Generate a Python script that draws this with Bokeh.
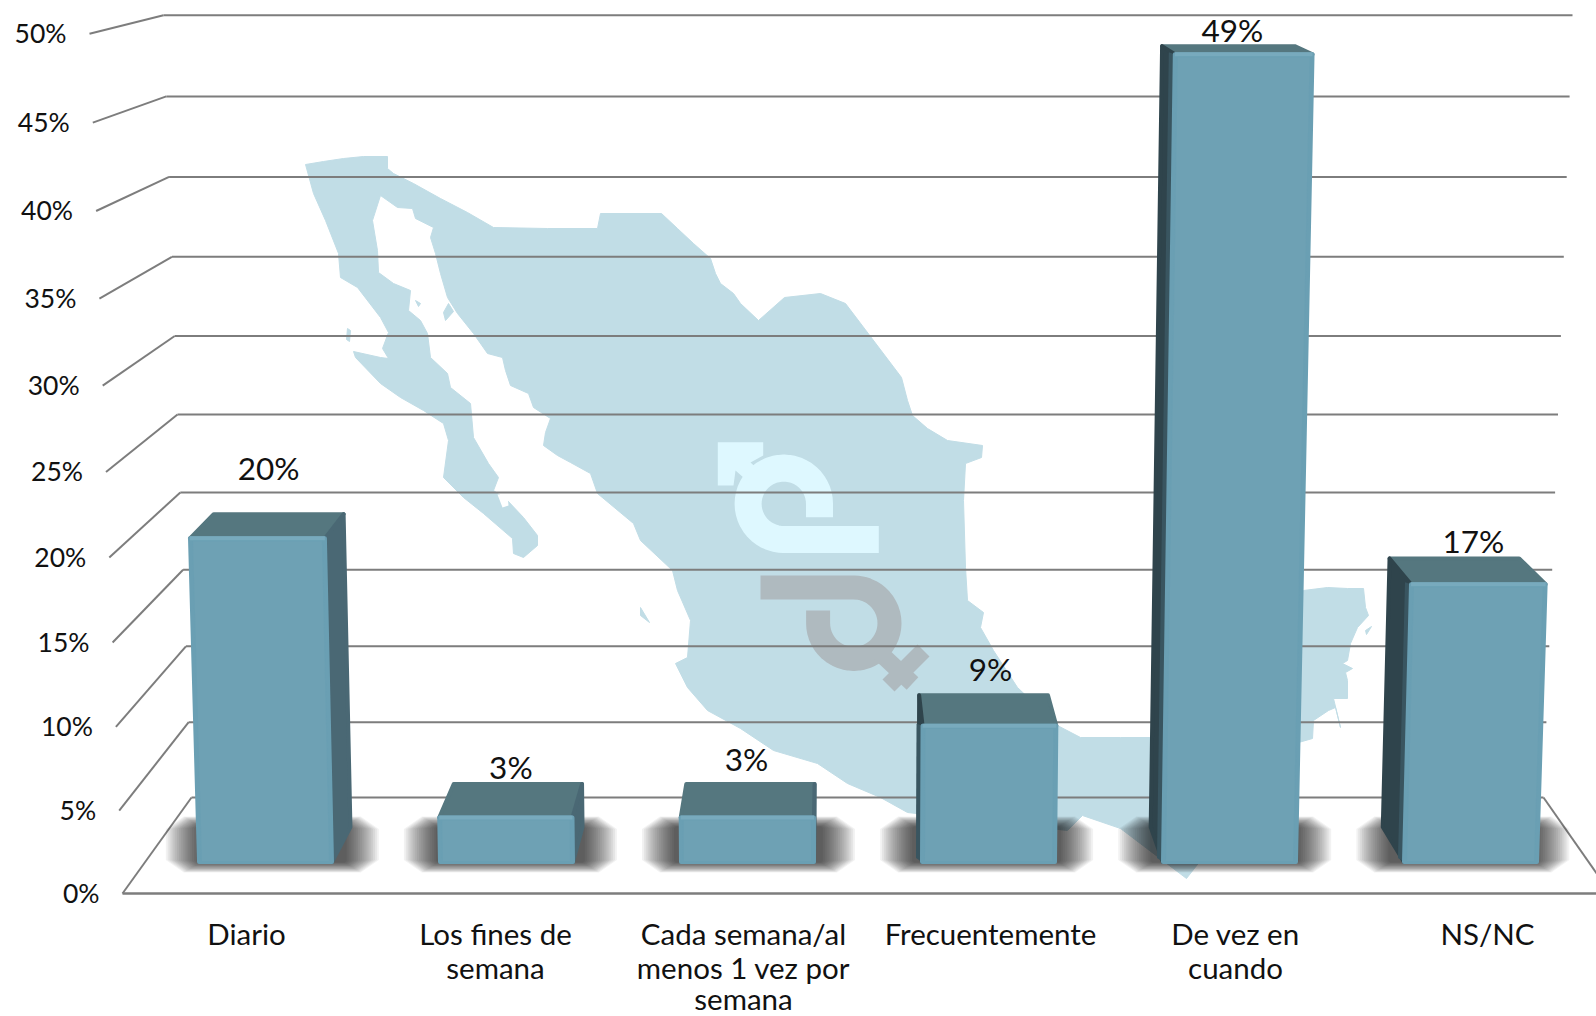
import numpy as np
from bokeh.core.properties import value
from bokeh.embed import file_html
from bokeh.models import Range1d
from bokeh.plotting import figure
from bokeh.resources import INLINE

# ---- data ----
categories = ["Diario", "Los fines de\nsemana", "Cada semana/al\nmenos 1 vez por\nsemana",
              "Frecuentemente", "De vez en\ncuando", "NS/NC"]
series_values = [20.1, 2.9, 2.9, 8.6, 49.1, 17.3]
tick_values = [0, 5, 10, 15, 20, 25, 30, 35, 40, 45, 50]
tick_labels = ["0%", "5%", "10%", "15%", "20%", "25%", "30%", "35%", "40%", "45%", "50%"]

# ---- layout of the mock 3D scene (page pixels) ----
FONT = "Lato"
GRID = "#7d7d7d"
FRONT, RIM, RIM_TOP, TOP = "#6ea1b4", "#6a9fb3", "#78aabd", "#55777f"
RSIDE, LSIDE, LSIDE2 = "#4a6874", "#2f444c", "#395560"
MAP, MALE, FEMALE = "#c1dde6", "#def8ff", "#afbabf"
VP = 830
BASE_Y, BASE_W, BASE_X0, BASE_STEP = 861.5, 133, 265, 241

def back_y(v):
    v = np.asarray(v, float)
    return 797 - 14.99 * v - 0.01311 * v ** 2
def front_y(v):
    v = np.asarray(v, float)
    return 893 - 16.53 * v - 0.01333 * v ** 2
def bar_h(v):
    return 16.0 * v + 0.01 * v ** 2 - 2
def lean(x, h):
    return x + 4.4e-5 * (x - VP) * h
def depth_x(x):
    return 0.037 * (VP - x)
def depth_y(h):
    return 35 - 0.0333 * h

p = figure(width=1596, height=1016, output_backend="svg", toolbar_location=None,
           x_range=Range1d(0, 1596), y_range=Range1d(1016, 0),
           min_border=0, outline_line_color=None, background_fill_color="white",
           x_axis_type="linear", tools="")
p.axis.visible = False
p.grid.visible = False

# ---- map silhouette (decorative background) ----
map_x = [305,323,343,363,387,387,393,413,440,467,493,547,597,600,661,677,693,710,715,720,733,740,
         758,784,820,845,870,901,907,912,927,947,982,981,965,963,965,967,983,980,993,1017,1057,1080,1120,
         1180,1303,1327,1347,1363,1365,1368,1357,1350,1347,1342,1352,1345,1347,1347,1333,1340,1335,1328,1313,1312,1298,1298,1186,
         1120,1082,1067,907,880,847,817,773,740,707,687,675,687,690,677,672,640,633,597,590,570,557,
         543,545,550,533,528,510,505,502,487,473,457,447,440,435,430,433,415,412,397,380,372,377,378,
         393,410,408,420,427,430,447,450,470,473,488,498,493,507,523,537,537,523,513,512,483,463,443,
         448,443,423,400,380,355,353,380,388,382,388,380,357,340,338,325,313]
map_y = [164,161,158,156,156,168,173,183,198,212,227,228,228,213,213,228,243,258,273,283,293,303,
         320,297,293,303,336,377,400,415,428,440,445,457,463,500,567,600,612,627,650,687,725,737,737,
         737,590,587,588,588,607,615,627,643,660,663,668,672,680,698,698,727,707,710,720,738,742,735,878,
         828,815,830,812,797,783,763,750,728,710,687,663,657,620,590,570,540,523,493,473,462,455,
         445,432,418,407,393,385,370,357,353,333,313,297,273,253,237,227,218,208,207,195,220,250,272,
         283,290,310,320,333,357,373,387,403,437,463,477,490,500,517,535,545,557,553,538,513,497,477,
         440,423,410,397,383,357,351,357,358,348,332,317,287,277,253,220,193]
p.patch(map_x, map_y, fill_color=MAP, line_color=MAP, line_width=1)
islands = [([448, 453, 445, 443], [303, 311, 320, 312]),
           ([415, 420, 418], [300, 303, 306]),
           ([347, 350, 349, 346], [328, 330, 341, 339]),
           ([1365, 1371, 1366], [630, 626, 634]),
           ([640, 649, 640], [607, 622, 615])]
for ix, iy in islands:
    p.patch(ix, iy, fill_color=MAP, line_color=MAP, line_width=1)
p.patch([497, 507, 508, 502], [494, 494, 505, 507], fill_color="white", line_color=None)

# ---- gender symbols ----
cx, cy, r = 783.3, 503.3, 35.7
t = np.radians(np.linspace(90, 360, 40))
p.line([878.3] + list(cx + r * np.cos(t)) + [cx + r, cx + r],
       [cy + r] + list(cy + r * np.sin(t)) + [cy, 516.7],
       line_color=MALE, line_width=27, line_join="round")
p.patch([717.3, 762.7, 762.7, 750, 772, 760, 735, 733, 717.3],
        [441.7, 441.7, 455, 462, 482, 492, 470, 485, 485], fill_color=MALE, line_color=None)
cx, cy = 853.3, 622.7
t = np.radians(np.linspace(-90, 180, 40))
p.line([760] + list(cx + r * np.cos(t)) + [cx - r, cx - r],
       [cy - r] + list(cy + r * np.sin(t)) + [cy, 610],
       line_color=FEMALE, line_width=24, line_join="round")
p.line([880, 912], [653, 683], line_color=FEMALE, line_width=17)
p.line([888, 923], [685, 650], line_color=FEMALE, line_width=17)

# ---- gridlines on the wall and side ----
ticks = np.array(tick_values, float)
wall_l = 191 - 0.56 * ticks
wall_r = 1543 + 0.58 * ticks
side_x = 122 - 0.66 * ticks
p.multi_line([[a, b] for a, b in zip(wall_l, wall_r)],
             [[y, y] for y in back_y(ticks)], line_color=GRID, line_width=2)
p.multi_line([[a, b] for a, b in zip(side_x, wall_l)],
             [[a, b] for a, b in zip(front_y(ticks), back_y(ticks))], line_color=GRID, line_width=2)
p.line([122, 1620], [893, 893], line_color=GRID, line_width=2.5)
p.line([1543, 1620], [797, 907], line_color=GRID, line_width=2)

# ---- tick labels ----
p.text(side_x - 23, front_y(ticks) - 0.5, text=tick_labels, text_align="right", text_baseline="middle",
       text_font=value(FONT), text_font_size="26.5px", text_color="#111111")

# ---- bars ----
label_dx = [-10, -7, -4, 7, 4, 19]
label_dy = [-46, -17, -25, -26, -16, -17]
for i, v in enumerate(series_values):
    xc = BASE_X0 + BASE_STEP * i
    xl, xr = xc - BASE_W / 2, xc + BASE_W / 2
    # soft floor shadow, stacked translucent layers with eased corners
    shift = (VP - xc) * 0.012
    n = 18
    for k in range(n):
        f = k / (n - 1)
        ext = 40 - 32 * f
        x0, x1 = xl + shift - ext, xr + shift + ext
        y0, y1 = 816 + 10 * f, 872 - 10 * f
        cut = 16 * (1 - f) + 2
        p.patch([x0 + cut, x1 - cut, x1, x1, x1 - cut, x0 + cut, x0, x0],
                [y0, y0, y0 + cut * 0.7, y1 - cut * 0.7, y1, y1, y1 - cut * 0.7, y0 + cut * 0.7],
                fill_color="black", fill_alpha=0.05, line_color=None)
    h = bar_h(v)
    top = BASE_Y - h
    fl, fr = lean(xl, h), lean(xr, h)
    d_base, d_top = depth_y(0), depth_y(h)
    bfl, bfr = fl + depth_x(fl), fr + depth_x(fr)
    by = top - d_top
    base_bl, base_br = xl + depth_x(xl), xr + depth_x(xr)
    def face(xs, ys, col):
        p.patch(xs, ys, fill_color=col, line_color=col, line_width=4, line_join="round")
    face([fl, fr, bfr, bfl], [top, top, by, by], TOP)
    if bfr > fr + 0.5:
        face([fr, bfr, base_br, xr], [top, by, BASE_Y - d_base, BASE_Y], RSIDE)
    if bfl < fl - 0.5:
        face([fl, bfl, base_bl, xl], [top, by, BASE_Y - d_base, BASE_Y], LSIDE)
        p.patch([fl, fl - 6, xl - 6, xl], [top, top - 2, BASE_Y - 4, BASE_Y],
                fill_color=LSIDE2, line_color=None)
    face([fl, fr, xr, xl], [top, top, BASE_Y, BASE_Y], RIM)
    p.line([fl, fr], [top, top], line_color=RIM_TOP, line_width=4)
    inset = 3
    p.patch([fl + inset, fr - inset, xr - inset, xl + inset],
            [top + 3, top + 3, BASE_Y - 1, BASE_Y - 1], fill_color=FRONT, line_color=None)
    p.text([(bfl + bfr) / 2 + label_dx[i]], [by + label_dy[i]], text=[f"{round(v)}%"],
           text_align="center", text_baseline="middle", text_font=value(FONT),
           text_font_size="31.5px", text_color="#111111")

# ---- category labels ----
cat_centres = [246, 495, 743, 990, 1235, 1487]
line_y = [933, 966.5, 998]
for i, c in enumerate(categories):
    for j, line in enumerate(c.split("\n")):
        p.text([cat_centres[i]], [line_y[j]], text=[line], text_align="center",
               text_baseline="middle", text_font=value(FONT), text_font_size="29.5px",
               text_color="#111111")

open("out.html", "w").write(file_html(p, INLINE))
